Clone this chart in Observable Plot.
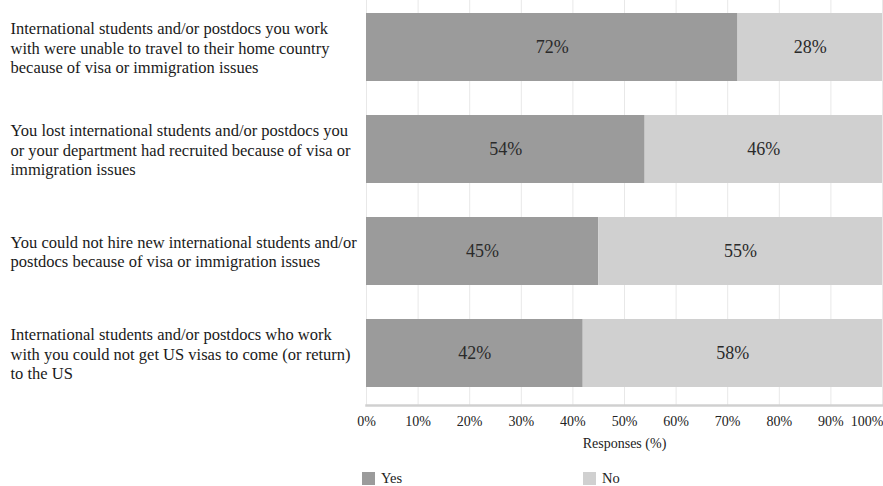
<!DOCTYPE html>
<html>
<head>
<meta charset="utf-8">
<script src="https://cdn.jsdelivr.net/npm/d3@7"></script>
<script src="https://cdn.jsdelivr.net/npm/@observablehq/plot@0.6"></script>
<style>
  html, body { margin: 0; padding: 0; background: #fff; }
  #wrap { width: 883px; font-family: "Liberation Serif", "Times New Roman", serif; color: #222; }
  #legend { position: relative; height: 31px; font-size: 14.5px; }
  .sw { position: absolute; top: 17px; width: 13px; height: 13px; }
  .lb { position: absolute; top: 15px; line-height: 17px; }
</style>
</head>
<body>
<div id="wrap">
  <div id="chart"></div>
  <div id="legend"></div>
</div>
<script>
const questions = [
  "International students and/or postdocs you work\nwith were unable to travel to their home country\nbecause of visa or immigration issues",
  "You lost international students and/or postdocs you\nor your department had recruited because of visa or\nimmigration issues",
  "You could not hire new international students and/or\npostdocs because of visa or immigration issues",
  "International students and/or postdocs who work\nwith you could not get US visas to come (or return)\nto the US"
];
const answers = ["Yes", "No"];
const yesValues = [72, 54, 45, 42];
const noValues = [28, 46, 55, 58];
const xTicks = [0, 10, 20, 30, 40, 50, 60, 70, 80, 90, 100];
const colors = ["#9b9b9b", "#d0d0d0"];

const data = [];
questions.forEach((q, i) => {
  data.push({question: q, answer: "Yes", value: yesValues[i]});
  data.push({question: q, answer: "No", value: noValues[i]});
});

const chart = Plot.plot({
  width: 883,
  height: 455,
  marginLeft: 366,
  marginRight: 1,
  marginTop: 0,
  marginBottom: 50,
  style: {fontFamily: '"Liberation Serif", "Times New Roman", serif', color: "#222", background: "#fff"},
  x: {domain: [0, 100]},
  y: {domain: questions, paddingInner: 0.338, paddingOuter: 0, insetTop: 12, insetBottom: 17},
  color: {domain: answers, range: colors},
  marks: [
    Plot.gridX(xTicks, {stroke: "#e8e8e8", strokeOpacity: 1, strokeWidth: 1}),
    Plot.barX(data, {x: "value", y: "question", fill: "answer", order: answers}),
    Plot.text(data, Plot.stackX({x: "value", y: "question", z: "answer", order: answers,
      text: d => d.value + "%", fill: "#2a2a2a", fontSize: 18})),
    Plot.frame({anchor: "bottom", stroke: "#d0d0d0", strokeWidth: 2.5}),
    Plot.axisX(xTicks.slice(0, -1), {tickSize: 0, tickPadding: 11, fontSize: 14, fill: "#222",
      tickFormat: d => d + "%", label: "Responses (%)", labelAnchor: "center", labelArrow: "none", labelOffset: 42}),
    Plot.axisX([100], {tickSize: 0, tickPadding: 11, fontSize: 14, textAnchor: "end", dx: 1, fill: "#222",
      tickFormat: d => d + "%", label: null}),
    Plot.axisY({tickSize: 0, tickPadding: 0, textAnchor: "start", dx: -356, fontSize: 16.5, lineHeight: 1.18, label: null, fill: "#1a1a1a"})
  ]
});
document.getElementById("chart").appendChild(chart);

const legend = document.getElementById("legend");
const legendX = [362, 583];
answers.forEach((a, i) => {
  const sw = document.createElement("div");
  sw.className = "sw";
  sw.style.left = legendX[i] + "px";
  sw.style.background = colors[i];
  legend.appendChild(sw);
  const lb = document.createElement("div");
  lb.className = "lb";
  lb.style.left = (legendX[i] + 19) + "px";
  lb.textContent = a;
  legend.appendChild(lb);
});
</script>
</body>
</html>
